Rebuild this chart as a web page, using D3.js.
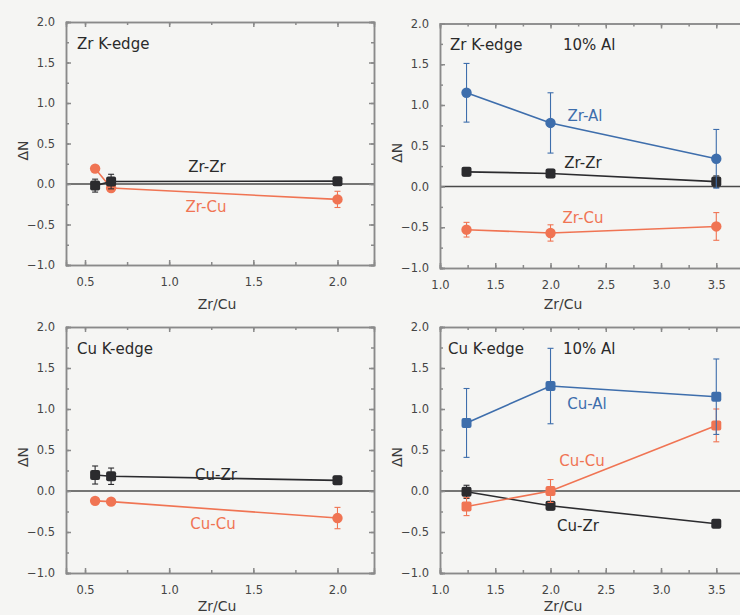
<!DOCTYPE html>
<html>
<head>
<meta charset="utf-8">
<script src="https://cdn.jsdelivr.net/npm/d3@7"></script>
<style>
html,body{margin:0;padding:0;background:#f5f5f3;}
svg{display:block;}
text{font-family:"DejaVu Sans","Liberation Sans",Arial,sans-serif;}
</style>
</head>
<body>
<svg id="chart" width="740" height="615"></svg>
<script>
// ---------- data ----------
const yTicks = [-1.0, -0.5, 0.0, 0.5, 1.0, 1.5, 2.0];
const xTicksLow = [0.5, 1.0, 1.5, 2.0];
const xTicksAl = [1.0, 1.5, 2.0, 2.5, 3.0, 3.5];

// Zr K-edge (no Al)
const zrEdgeX = [0.56, 0.655, 2.0];
const zrZrVal = [-0.02, 0.03, 0.035];
const zrZrErr = [0.08, 0.09, 0.03];
const zrCuVal = [0.19, -0.05, -0.19];
const zrCuErr = [0.02, 0.03, 0.1];

// Zr K-edge 10% Al
const zrAlEdgeX = [1.24, 2.0, 3.5];
const zrAl_AlVal = [1.15, 0.78, 0.34];
const zrAl_AlErr = [0.36, 0.37, 0.36];
const zrAl_ZrVal = [0.18, 0.16, 0.06];
const zrAl_ZrErr = [0.05, 0.05, 0.07];
const zrAl_CuVal = [-0.53, -0.57, -0.49];
const zrAl_CuErr = [0.09, 0.1, 0.17];

// Cu K-edge (no Al)
const cuEdgeX = [0.56, 0.655, 2.0];
const cuZrVal = [0.195, 0.18, 0.13];
const cuZrErr = [0.11, 0.1, 0.05];
const cuCuVal = [-0.12, -0.13, -0.33];
const cuCuErr = [0.03, 0.03, 0.13];

// Cu K-edge 10% Al
const cuAlEdgeX = [1.24, 2.0, 3.5];
const cuAl_AlVal = [0.83, 1.28, 1.15];
const cuAl_AlErr = [0.42, 0.46, 0.46];
const cuAl_CuVal = [-0.19, 0.0, 0.8];
const cuAl_CuErr = [0.11, 0.14, 0.2];
const cuAl_ZrVal = [-0.01, -0.18, -0.4];
const cuAl_ZrErr = [0.08, 0.05, 0.04];

// ---------- styles ----------
const C_BLACK = "#2b2b2e";
const C_ORANGE = "#f07453";
const C_BLUE = "#3e6eac";
const C_AXIS = "#8a8a8a";

const panels = [
  { left: 66, right: 374, top: 22, bottom: 265, xDomain: [0.387, 2.217], xTicks: xTicksLow,
    xTitle: [217, 309],
    title: [{t: "Zr K-edge", dx: 11, dy: 27}],
    series: [
      {name: "Zr-Cu", x: zrEdgeX, v: zrCuVal, e: zrCuErr, color: C_ORANGE, shape: "circle", label: [206, 212]},
      {name: "Zr-Zr", x: zrEdgeX, v: zrZrVal, e: zrZrErr, color: C_BLACK, shape: "square", label: [207, 172]}
    ]},
  { left: 440, right: 749, top: 23.5, bottom: 268, xDomain: [1.0, 3.796], xTicks: xTicksAl,
    xTitle: [563, 309],
    title: [{t: "Zr K-edge", dx: 10, dy: 26}, {t: "10% Al", dx: 123, dy: 26}],
    series: [
      {name: "Zr-Cu", x: zrAlEdgeX, v: zrAl_CuVal, e: zrAl_CuErr, color: C_ORANGE, shape: "circle", label: [583, 223]},
      {name: "Zr-Zr", x: zrAlEdgeX, v: zrAl_ZrVal, e: zrAl_ZrErr, color: C_BLACK, shape: "square", label: [583, 168]},
      {name: "Zr-Al", x: zrAlEdgeX, v: zrAl_AlVal, e: zrAl_AlErr, color: C_BLUE, shape: "circle", label: [585, 121]}
    ]},
  { left: 66, right: 374, top: 327, bottom: 573, xDomain: [0.387, 2.217], xTicks: xTicksLow,
    xTitle: [217, 611],
    title: [{t: "Cu K-edge", dx: 11, dy: 27}],
    series: [
      {name: "Cu-Cu", x: cuEdgeX, v: cuCuVal, e: cuCuErr, color: C_ORANGE, shape: "circle", label: [213, 529]},
      {name: "Cu-Zr", x: cuEdgeX, v: cuZrVal, e: cuZrErr, color: C_BLACK, shape: "square", label: [216, 480]}
    ]},
  { left: 440, right: 749, top: 327, bottom: 573, xDomain: [1.0, 3.796], xTicks: xTicksAl,
    xTitle: [563, 611],
    title: [{t: "Cu K-edge", dx: 8, dy: 27}, {t: "10% Al", dx: 123, dy: 27}],
    series: [
      {name: "Cu-Zr", x: cuAlEdgeX, v: cuAl_ZrVal, e: cuAl_ZrErr, color: C_BLACK, shape: "square", label: [578, 531]},
      {name: "Cu-Cu", x: cuAlEdgeX, v: cuAl_CuVal, e: cuAl_CuErr, color: C_ORANGE, shape: "square", label: [582, 466]},
      {name: "Cu-Al", x: cuAlEdgeX, v: cuAl_AlVal, e: cuAl_AlErr, color: C_BLUE, shape: "square", label: [587, 409]}
    ]}
];

const svg = d3.select("#chart");
svg.append("rect").attr("width", 740).attr("height", 615).attr("fill", "#f5f5f3");

function range(a, b, s) { const out = []; for (let v = a; v <= b + 1e-9; v += s) out.push(+v.toFixed(4)); return out; }

panels.forEach(p => {
  const x = d3.scaleLinear().domain(p.xDomain).range([p.left, p.right]);
  const y = d3.scaleLinear().domain([-1, 2]).range([p.bottom, p.top]);
  const g = svg.append("g");

  // zero line
  g.append("line").attr("x1", p.left).attr("x2", p.right).attr("y1", y(0)).attr("y2", y(0))
    .attr("stroke", "#4a4a4a").attr("stroke-width", 1.6);

  // axes (ticks inward)
  const xMinor = range(Math.ceil(p.xDomain[0] * 4) / 4, p.xDomain[1], 0.25);
  const yMinor = range(-1, 2, 0.25);
  const axB = d3.axisBottom(x).tickValues(xMinor).tickSize(-3).tickFormat("");
  const axBM = d3.axisBottom(x).tickValues(p.xTicks).tickSize(-5).tickPadding(13).tickFormat(d3.format(".1f"));
  const axT = d3.axisTop(x).tickValues(xMinor).tickSize(-3).tickFormat("");
  const axTM = d3.axisTop(x).tickValues(p.xTicks).tickSize(-5).tickFormat("");
  const axL = d3.axisLeft(y).tickValues(yMinor).tickSize(-3).tickFormat("");
  const axLM = d3.axisLeft(y).tickValues(yTicks).tickSize(-5).tickPadding(11).tickFormat(d3.format(".1f"));
  const axR = d3.axisRight(y).tickValues(yMinor).tickSize(-3).tickFormat("");
  const axRM = d3.axisRight(y).tickValues(yTicks).tickSize(-5).tickFormat("");

  const put = (ax, tr) => {
    const a = g.append("g").attr("transform", tr).call(ax);
    a.selectAll("path,line").attr("stroke", C_AXIS).attr("stroke-width", 1.5);
    a.selectAll("text").attr("fill", "#454545").attr("font-size", 11.5)
      .attr("font-family", "DejaVu Sans, Liberation Sans, sans-serif");
    return a;
  };
  put(axB, `translate(0,${p.bottom})`);
  put(axBM, `translate(0,${p.bottom})`);
  put(axT, `translate(0,${p.top})`);
  put(axTM, `translate(0,${p.top})`);
  put(axL, `translate(${p.left},0)`);
  put(axLM, `translate(${p.left},0)`);
  put(axR, `translate(${p.right},0)`);
  put(axRM, `translate(${p.right},0)`);

  // axis titles
  g.append("text").attr("x", p.xTitle[0]).attr("y", p.xTitle[1])
    .attr("text-anchor", "middle").attr("font-size", 14).attr("fill", "#3a3a3a").text("Zr/Cu");
  g.append("text").attr("transform", `translate(${p.left - 38},${(p.top + p.bottom) / 2 + 7}) rotate(-90)`)
    .attr("text-anchor", "middle").attr("font-size", 14).attr("fill", "#3a3a3a").text("ΔN");

  // panel titles
  p.title.forEach(t => {
    g.append("text").attr("x", p.left + t.dx).attr("y", p.top + t.dy)
      .attr("font-size", 15).attr("fill", "#2a2a2a").text(t.t);
  });

  // series lines
  p.series.forEach(s => {
    const pts = s.x.map((xv, i) => [x(xv), y(s.v[i])]);
    g.append("path").attr("d", d3.line()(pts)).attr("fill", "none")
      .attr("stroke", s.color).attr("stroke-width", 1.6);
  });
  // error bars and markers
  p.series.forEach(s => {
    s.x.forEach((xv, i) => {
      const cx = x(xv), lo = y(s.v[i] - s.e[i]), hi = y(s.v[i] + s.e[i]);
      g.append("line").attr("x1", cx).attr("x2", cx).attr("y1", lo).attr("y2", hi)
        .attr("stroke", s.color).attr("stroke-width", 1.1);
      [lo, hi].forEach(yy => g.append("line").attr("x1", cx - 3).attr("x2", cx + 3)
        .attr("y1", yy).attr("y2", yy).attr("stroke", s.color).attr("stroke-width", 1.1));
      const cy = y(s.v[i]);
      if (s.shape === "circle") {
        g.append("circle").attr("cx", cx).attr("cy", cy).attr("r", 5.2).attr("fill", s.color);
      } else {
        g.append("rect").attr("x", cx - 5).attr("y", cy - 5).attr("width", 10).attr("height", 10)
          .attr("rx", 2).attr("fill", s.color);
      }
    });
    g.append("text").attr("x", s.label[0]).attr("y", s.label[1]).attr("text-anchor", "middle")
      .attr("font-size", 15).attr("fill", s.color === C_BLACK ? "#2a2a2a" : s.color).text(s.name);
  });
});
</script>
</body>
</html>
